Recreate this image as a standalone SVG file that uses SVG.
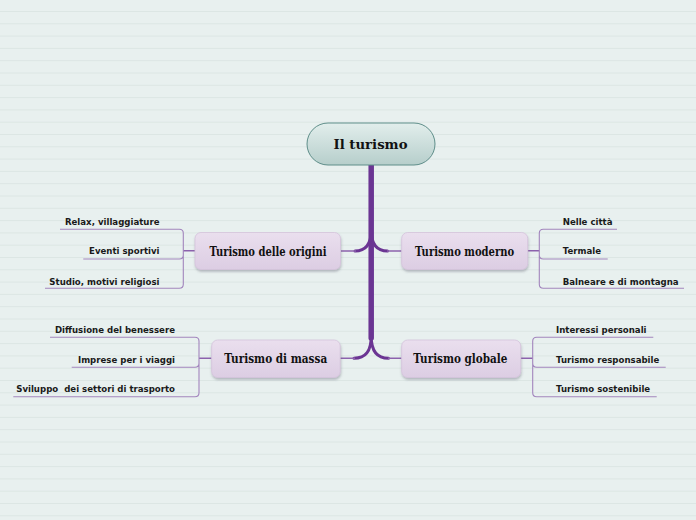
<svg xmlns="http://www.w3.org/2000/svg" width="696" height="520" viewBox="0 0 696 520">
<defs>
<style>
.bgline{stroke:#dce6e4;stroke-width:1;fill:none}
.trunk{stroke:#6b3593;fill:none;stroke-linecap:round}
.thin{stroke:#8c62ad;stroke-width:1.4;fill:none}
.br{stroke:#a285bd;stroke-width:1.1;fill:none}
.main{fill:url(#lav);stroke:#d4c3dc;stroke-width:0.8;filter:url(#sh)}
.mt{font-family:"DejaVu Serif","Liberation Serif",serif;font-weight:bold;font-size:13px;fill:#111;text-anchor:middle;dominant-baseline:central}
.st{font-family:"DejaVu Sans","Verdana",sans-serif;font-weight:bold;font-size:8.6px;fill:#1a1a1a}
.r{text-anchor:end}
</style>
<linearGradient id="lav" x1="0" y1="0" x2="0" y2="1">
<stop offset="0" stop-color="#eadfee"/>
<stop offset="1" stop-color="#dccde3"/>
</linearGradient>
<linearGradient id="teal" x1="0" y1="0" x2="0" y2="1">
<stop offset="0" stop-color="#e2eeec"/>
<stop offset="1" stop-color="#b6cecb"/>
</linearGradient>
<filter id="sh" x="-10%" y="-20%" width="120%" height="150%">
<feDropShadow dx="0.5" dy="2" stdDeviation="1.3" flood-color="#556" flood-opacity="0.35"/>
</filter>
</defs>
<rect width="696" height="520" fill="#e8f0ef"/>
<path class="bgline" d="M0 11.5H696M0 23.8H696M0 36.1H696M0 48.4H696M0 60.7H696M0 73H696M0 85.3H696M0 97.6H696M0 109.9H696M0 122.2H696M0 134.5H696M0 146.8H696M0 159.1H696M0 171.4H696M0 183.7H696M0 196H696M0 208.3H696M0 220.6H696M0 232.9H696M0 245.2H696M0 257.5H696M0 269.8H696M0 282.1H696M0 294.4H696M0 306.7H696M0 319H696M0 331.3H696M0 343.6H696M0 355.9H696M0 368.2H696M0 380.5H696M0 392.8H696M0 405.1H696M0 417.4H696M0 429.7H696M0 442H696M0 454.3H696M0 466.6H696M0 478.9H696M0 491.2H696M0 503.5H696M0 515.8H696"/>
<g id="connectors">
<path class="trunk" stroke-width="5.5" d="M371.2 165V338"/>
<path class="trunk" stroke-width="3" d="M371.2 230C371.2 244 366 251 355 251M371.2 230C371.2 244 376.5 251 387.5 251"/>
<path class="trunk" stroke-width="3" d="M371.2 336C371.2 351 366 358.3 354 358.3M371.2 336C371.2 351 376.5 358.3 388.5 358.3"/>
<path class="thin" d="M340.5 251H356M401.7 251H387M340 358.3H355M401.7 358.3H388"/>
<path class="thin" d="M195 250.7H183.3M527.7 250.7H539.3M211.7 358.3H199M520.7 358.3H532.7"/>
<path class="br" d="M60 229.3H179.3Q183.3 229.3 183.3 233.3V284.3Q183.3 288.3 179.3 288.3H45M83.3 259H179.3Q183.3 259 183.3 255"/>
<path class="br" d="M617 229.3H543.3Q539.3 229.3 539.3 233.3V284.3Q539.3 288.3 543.3 288.3H684M607.7 259H543.3Q539.3 259 539.3 255"/>
<path class="br" d="M50 337.3H195Q199 337.3 199 341.3V392.7Q199 396.7 195 396.7H13.3M71.7 367.3H195Q199 367.3 199 363.3"/>
<path class="br" d="M653.3 337.3H536.7Q532.7 337.3 532.7 341.3V392.7Q532.7 396.7 536.7 396.7H656.7M665.7 367.3H536.7Q532.7 367.3 532.7 363.3"/>
</g>
<g id="center">
<rect x="307" y="123" width="128" height="42" rx="21" fill="url(#teal)" stroke="#5f8e8a" stroke-width="1"/>
<text class="mt" x="370.5" y="144.5" font-size="16" textLength="74" lengthAdjust="spacingAndGlyphs">Il turismo</text>
</g>
<g id="n-origini">
<rect class="main" x="195" y="232.5" width="145.5" height="37" rx="6"/>
<text class="mt" x="268" y="251" textLength="117" lengthAdjust="spacingAndGlyphs">Turismo delle origini</text>
</g>
<g id="n-moderno">
<rect class="main" x="401.7" y="232.5" width="126" height="37" rx="6"/>
<text class="mt" x="464.6" y="251" textLength="99" lengthAdjust="spacingAndGlyphs">Turismo moderno</text>
</g>
<g id="n-massa">
<rect class="main" x="211.7" y="340" width="128.5" height="37.5" rx="6"/>
<text class="mt" x="275.7" y="358.5" textLength="103" lengthAdjust="spacingAndGlyphs">Turismo di massa</text>
</g>
<g id="n-globale">
<rect class="main" x="401.7" y="340" width="119" height="37.5" rx="6"/>
<text class="mt" x="460.3" y="358.5" textLength="94" lengthAdjust="spacingAndGlyphs">Turismo globale</text>
</g>
<g id="sub-origini">
<text class="st r" x="159.5" y="225">Relax, villaggiature</text>
<text class="st r" x="159.5" y="254">Eventi sportivi</text>
<text class="st r" x="159.5" y="284.5">Studio, motivi religiosi</text>
</g>
<g id="sub-moderno">
<text class="st" x="562.7" y="225">Nelle città</text>
<text class="st" x="562.7" y="254">Termale</text>
<text class="st" x="562.7" y="284.5">Balneare e di montagna</text>
</g>
<g id="sub-massa">
<text class="st r" x="175" y="332.5">Diffusione del benessere</text>
<text class="st r" x="175" y="362.5">Imprese per i viaggi</text>
<text class="st r" x="175" y="392" xml:space="preserve">Sviluppo  dei settori di trasporto</text>
</g>
<g id="sub-globale">
<text class="st" x="556" y="332.5">Interessi personali</text>
<text class="st" x="556" y="362.5">Turismo responsabile</text>
<text class="st" x="556" y="392">Turismo sostenibile</text>
</g>
</svg>
